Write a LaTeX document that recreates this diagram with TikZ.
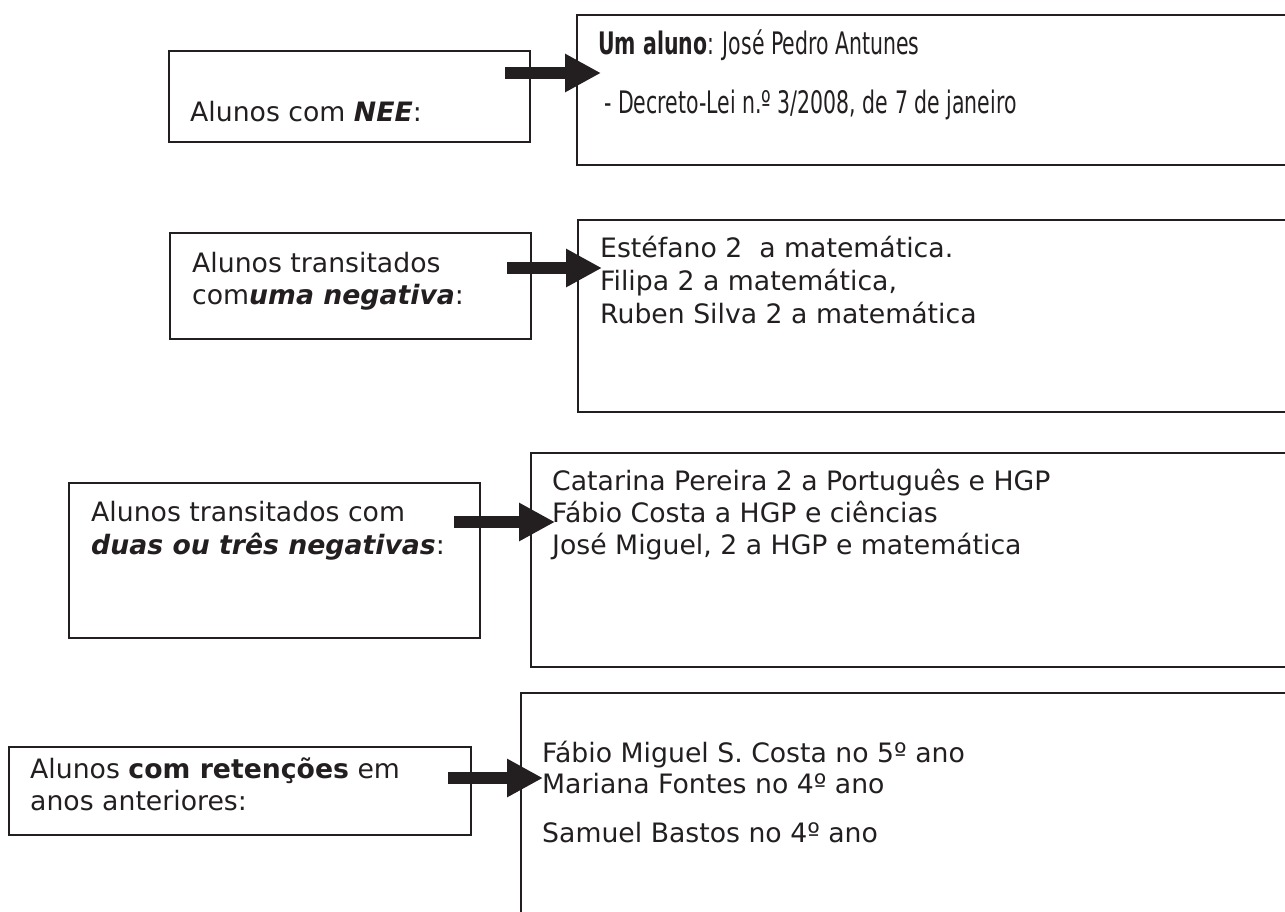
\documentclass[tikz,border=0pt]{standalone}
\usepackage{fontspec}
\setmainfont{DejaVu Sans}
\newfontfamily\condf[FakeStretch=0.66]{DejaVu Sans}
\usetikzlibrary{arrows.meta}
\definecolor{ink}{RGB}{35,31,32}
\tikzset{
  box/.style={draw=ink, line width=1.6pt, rectangle, inner sep=0pt},
  txt/.style={anchor=base west, inner sep=0pt, text=ink, font=\fontsize{26.7pt}{33pt}\selectfont},
  ctxt/.style={anchor=base west, inner sep=0pt, text=ink, font=\condf\fontsize{31pt}{36pt}\selectfont},
  fatarrow/.style={draw=ink, line width=12.5pt, -{Triangle[length=36pt,width=36pt]}}
}
\begin{document}
\begin{tikzpicture}[x=1pt,y=-1pt]
\useasboundingbox (0,0) rectangle (1285,911);
\clip (0,0) rectangle (1285,911);
% boxes
\node[box, minimum width=361pt, minimum height=91pt] (b1l) at (349.5,96.5) {};
\node[box, minimum width=723pt, minimum height=150pt] (b1r) at (938.5,90) {};
\node[box, minimum width=361pt, minimum height=106pt] (b2l) at (350.5,286) {};
\node[box, minimum width=722pt, minimum height=192pt] (b2r) at (939,316) {};
\node[box, minimum width=411pt, minimum height=155pt] (b3l) at (274.5,560.5) {};
\node[box, minimum width=769pt, minimum height=214pt] (b3r) at (915.5,560) {};
\node[box, minimum width=462pt, minimum height=88pt] (b4l) at (240,791) {};
\node[box, minimum width=779pt, minimum height=237pt] (b4r) at (910.5,811.5) {};
% texts
\node[txt] (t1a) at (190,121) {Alunos com \textbf{\textit{NEE}}:};
\node[ctxt] (u1a) at (598,54) {\textbf{Um aluno}: José Pedro Antunes};
\node[ctxt] (u1b) at (604,113) {- Decreto-Lei n.º 3/2008, de 7 de janeiro};
\node[txt] (t2a) at (192,272) {Alunos transitados};
\node[txt] (t2b) at (192,304) {com\textbf{\textit{uma negativa}}:};
\node[txt] (u2a) at (600,257) {Estéfano 2\ \ a matemática.};
\node[txt] (u2b) at (600,290) {Filipa 2 a matemática,};
\node[txt] (u2c) at (600,323) {Ruben Silva 2 a matemática};
\node[txt] (t3a) at (91,521) {Alunos transitados com};
\node[txt] (t3b) at (91,554) {\textbf{\textit{duas ou três negativas}}:};
\node[txt] (u3a) at (552,490) {Catarina Pereira 2 a Português e HGP};
\node[txt] (u3b) at (552,522) {Fábio Costa a HGP e ciências};
\node[txt] (u3c) at (552,554) {José Miguel, 2 a HGP e matemática};
\node[txt] (t4a) at (30,778) {Alunos \textbf{com retenções} em};
\node[txt] (t4b) at (30,810) {anos anteriores:};
\node[txt] (u4a) at (542,762) {Fábio Miguel S. Costa no 5º ano};
\node[txt] (u4b) at (542,793) {Mariana Fontes no 4º ano};
\node[txt] (u4c) at (542,842) {Samuel Bastos no 4º ano};
% arrows
\coordinate (a1s) at (505,73);  \coordinate (a1e) at (601,73);
\coordinate (a2s) at (507,268); \coordinate (a2e) at (602,268);
\coordinate (a3s) at (454,522); \coordinate (a3e) at (555,522);
\coordinate (a4s) at (448,778); \coordinate (a4e) at (543,778);
\draw[fatarrow] (a1s) -- (a1e);
\draw[fatarrow] (a2s) -- (a2e);
\draw[fatarrow] (a3s) -- (a3e);
\draw[fatarrow] (a4s) -- (a4e);
\end{tikzpicture}
\end{document}
